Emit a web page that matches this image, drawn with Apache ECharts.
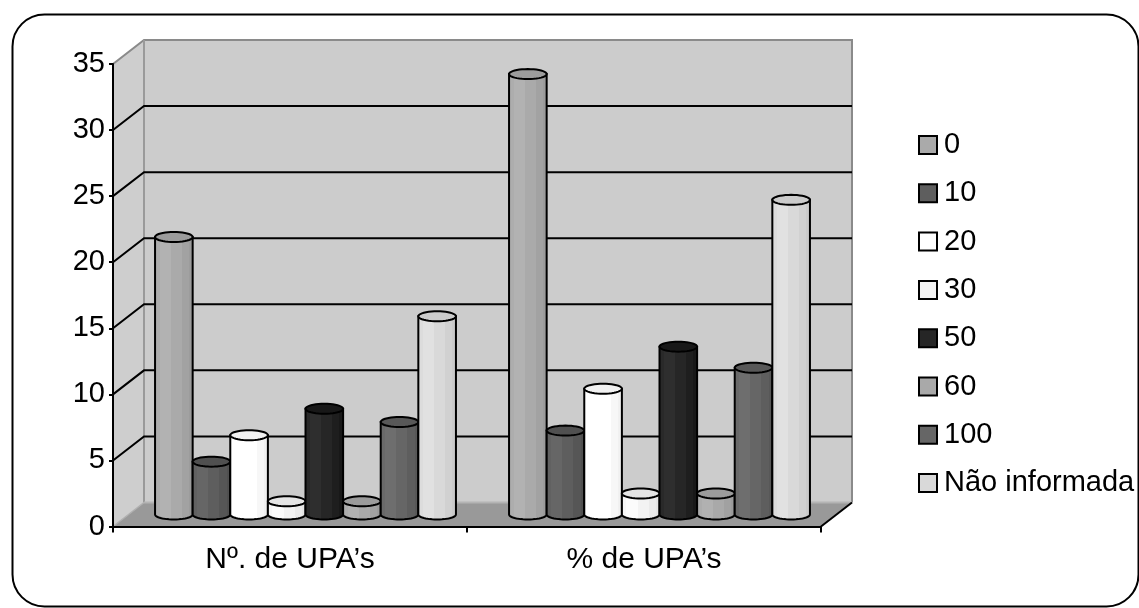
<!DOCTYPE html>
<html>
<head>
<meta charset="utf-8">
<script src="https://cdn.jsdelivr.net/npm/echarts@6/dist/echarts.min.js"></script>
<style>
  html, body { margin: 0; padding: 0; background: #ffffff; }
  #chart { width: 1139px; height: 608px; }
</style>
</head>
<body>
<div id="chart"></div>
<script>
// Categories on the horizontal axis
const categories = ['Nº. de UPA’s', '% de UPA’s'];
// Legend / series names
const seriesNames = ['0', '10', '20', '30', '50', '60', '100', 'Não informada'];
// Number of UPA's for each class
const countValues = [21, 4, 6, 1, 8, 1, 7, 15];
// Percentage of UPA's for each class
const percentValues = [33.33, 6.35, 9.52, 1.59, 12.70, 1.59, 11.11, 23.81];
// Value axis ticks
const yTicks = [0, 5, 10, 15, 20, 25, 30, 35];

// Fill colours of the columns
const barColors = ['#aaaaaa', '#5e5e5e', '#ffffff', '#f3f3f3', '#262626', '#a9a9a9', '#666666', '#d9d9d9'];

const FONT = "'Liberation Sans', Arial, sans-serif";
// Depth of the 3D box (offset of the back wall from the front plane)
const DX = 31, DY = -24;
const GROUP_FILL = 0.85;
const CAP_RY = 5;

function shade(hex, d) {
  const n = parseInt(hex.slice(1), 16);
  const c = [(n >> 16) & 255, (n >> 8) & 255, n & 255].map(v => Math.max(0, Math.min(255, v + d)));
  return 'rgb(' + c.join(',') + ')';
}

function ellipsePts(cx, cy, rx, ry, a0, a1, steps) {
  const pts = [];
  for (let i = 0; i <= steps; i++) {
    const t = a0 + (a1 - a0) * i / steps;
    pts.push([cx + rx * Math.cos(t), cy + ry * Math.sin(t)]);
  }
  return pts;
}

const chart = echarts.init(document.getElementById('chart'), null, { renderer: 'canvas' });

// Walls, floor and gridlines of the 3D box
const sceneSeries = {
  type: 'custom',
  name: '__scene',
  coordinateSystem: 'cartesian2d',
  silent: true,
  z: 1,
  data: [[0, 0]],
  renderItem: function (params, api) {
    const cs = params.coordSys;
    const L = cs.x, R = cs.x + cs.width;
    const yTop = api.coord([0, yTicks[yTicks.length - 1]])[1];
    const y0 = api.coord([0, yTicks[0]])[1];
    const children = [];
    children.push({ type: 'polygon', shape: { points: [[L, yTop], [L + DX, yTop + DY], [L + DX, y0 + DY], [L, y0]] }, style: { fill: '#cecece' } });
    children.push({ type: 'rect', shape: { x: L + DX, y: yTop + DY, width: R - L, height: y0 - yTop }, style: { fill: '#cccccc' } });
    children.push({ type: 'polygon', shape: { points: [[L, y0], [L + DX, y0 + DY], [R + DX, y0 + DY], [R, y0]] }, style: { fill: '#999999' } });
    // wall edges
    children.push({ type: 'polyline', shape: { points: [[L, yTop], [L + DX, yTop + DY], [R + DX, yTop + DY], [R + DX, y0 + DY]] }, style: { stroke: '#8a8a8a', lineWidth: 2, fill: null } });
    children.push({ type: 'line', shape: { x1: L + DX, y1: yTop + DY, x2: L + DX, y2: y0 + DY }, style: { stroke: '#9a9a9a', lineWidth: 2 } });
    children.push({ type: 'line', shape: { x1: L + DX, y1: y0 + DY, x2: R + DX, y2: y0 + DY }, style: { stroke: '#b4b4b4', lineWidth: 2 } });
    children.push({ type: 'line', shape: { x1: L, y1: y0, x2: L + DX, y2: y0 + DY }, style: { stroke: '#b0b0b0', lineWidth: 1.5 } });
    // gridlines on side and back walls
    yTicks.slice(1, -1).forEach(function (t) {
      const y = api.coord([0, t])[1];
      children.push({ type: 'polyline', shape: { points: [[L, y], [L + DX, y + DY], [R + DX, y + DY]] }, style: { stroke: '#000000', lineWidth: 2, fill: null } });
    });
    // right edge of the floor
    children.push({ type: 'line', shape: { x1: R, y1: y0, x2: R + DX, y2: y0 + DY }, style: { stroke: '#000000', lineWidth: 2 } });
    return { type: 'group', children: children };
  }
};

function makeBarSeries(idx) {
  const color = barColors[idx];
  return {
    type: 'custom',
    name: seriesNames[idx],
    coordinateSystem: 'cartesian2d',
    z: 2,
    itemStyle: { color: color },
    data: categories.map(function (c, ci) { return [ci, ci === 0 ? countValues[idx] : percentValues[idx]]; }),
    renderItem: function (params, api) {
      const cat = api.value(0), v = api.value(1);
      const base = api.coord([cat, 0]);
      const top = api.coord([cat, v]);
      const band = api.size([1, 0])[0];
      const groupW = band * GROUP_FILL;
      const w = groupW / seriesNames.length;
      const cx = base[0] + DX / 2 - groupW / 2 + w * (idx + 0.5);
      const rx = w / 2;
      const yB = base[1] + DY / 2;
      const yT = top[1] + DY / 2;
      const x0 = cx - rx, x1 = cx + rx;
      const body = [[x1, yT], [x0, yT], [x0, yB]].concat(ellipsePts(cx, yB, rx, CAP_RY, Math.PI, 0, 24)).concat([[x1, yB]]);
      const s = [shade(color, 3), shade(color, 8), shade(color, 0), shade(color, -8), shade(color, -14)];
      const grad = new echarts.graphic.LinearGradient(0, 0, 1, 0, [
        { offset: 0, color: s[0] }, { offset: 0.14, color: s[0] },
        { offset: 0.14, color: s[1] }, { offset: 0.42, color: s[1] },
        { offset: 0.42, color: s[2] }, { offset: 0.7, color: s[2] },
        { offset: 0.7, color: s[3] }, { offset: 0.88, color: s[3] },
        { offset: 0.88, color: s[4] }, { offset: 1, color: s[4] }
      ]);
      const cap = ellipsePts(cx, yT, rx, CAP_RY, 0, Math.PI * 2, 40);
      return {
        type: 'group',
        children: [
          { type: 'polygon', shape: { points: body }, style: { fill: grad, stroke: '#000000', lineWidth: 2 } },
          { type: 'polygon', shape: { points: cap }, style: { fill: shade(color, -14), stroke: '#000000', lineWidth: 2 } }
        ]
      };
    }
  };
}

const option = {
  backgroundColor: '#ffffff',
  animation: false,
  textStyle: { fontFamily: FONT },
  graphic: [{
    type: 'rect', left: 10, top: 12, z: 100,
    shape: { width: 1126, height: 592, r: 32 },
    style: { fill: null, stroke: '#000000', lineWidth: 2 }
  }],
  grid: { left: 113, right: 318, top: 64, bottom: 81.5, containLabel: false },
  legend: {
    orient: 'vertical',
    left: 918,
    top: 130.5,
    padding: 0,
    itemWidth: 18,
    itemHeight: 18,
    itemGap: 19.3,
    icon: 'rect',
    data: seriesNames,
    itemStyle: { borderColor: '#000000', borderWidth: 2 },
    textStyle: { fontSize: 29, lineHeight: 29, color: '#000000', fontFamily: FONT, padding: [0, 0, 0, 2] }
  },
  xAxis: {
    type: 'category',
    data: categories,
    z: 10,
    boundaryGap: true,
    axisLine: { lineStyle: { color: '#000000', width: 2 } },
    axisTick: { show: true, length: 6, lineStyle: { color: '#000000', width: 2 } },
    axisLabel: { fontSize: 30, color: '#000000', margin: 18, fontFamily: FONT },
    splitLine: { show: false }
  },
  yAxis: {
    type: 'value',
    min: 0, max: 35, interval: 5,
    z: 10,
    axisLine: { show: true, lineStyle: { color: '#000000', width: 2 } },
    axisTick: { show: true, length: 4, lineStyle: { color: '#000000', width: 2 } },
    axisLabel: { fontSize: 29, color: '#000000', margin: 8, fontFamily: FONT },
    splitLine: { show: false }
  },
  series: [sceneSeries].concat(seriesNames.map(function (n, i) { return makeBarSeries(i); }))
};

chart.setOption(option);
</script>
</body>
</html>
